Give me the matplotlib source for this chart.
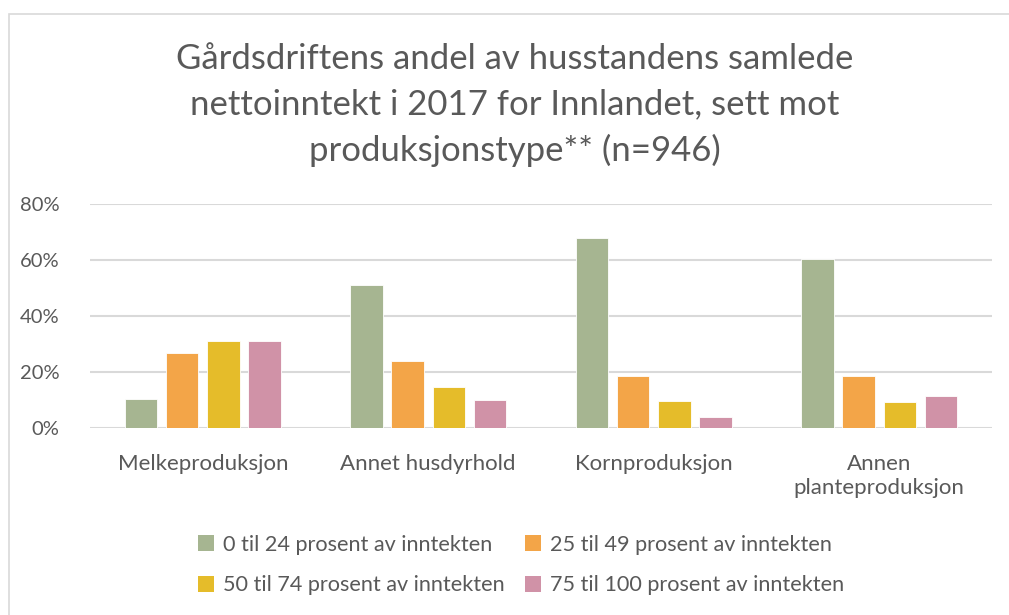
import matplotlib
matplotlib.use("Agg")
import matplotlib.pyplot as plt
import numpy as np
from matplotlib.patches import Rectangle, Patch

categories = ["Melkeproduksjon", "Annet husdyrhold", "Kornproduksjon", "Annen\nplanteproduksjon"]
series_names = ["0 til 24 prosent av inntekten", "25 til 49 prosent av inntekten",
                "50 til 74 prosent av inntekten", "75 til 100 prosent av inntekten"]
s0_24 = [10.5, 51.0, 67.7, 60.5]
s25_49 = [26.9, 23.9, 18.6, 18.6]
s50_74 = [31.1, 14.6, 9.5, 9.2]
s75_100 = [31.1, 10.0, 3.9, 11.4]
yticks = [0, 20, 40, 60, 80]
ytick_labels = ["0%", "20%", "40%", "60%", "80%"]
title = "Gårdsdriftens andel av husstandens samlede\nnettoinntekt i 2017 for Innlandet, sett mot\nproduksjonstype** (n=946)"

colors = ["#A6B591", "#F3A548", "#E5BC2A", "#D092A7"]
text_color = "#595959"
grid_color = "#D9D9D9"
plt.rcParams['font.family'] = ['Lato', 'DejaVu Sans']

fig = plt.figure(figsize=(10.09, 6.15), dpi=100)
ax = fig.add_axes([90/1009, 1-428/615, 902/1009, 224/615])

# chart border
fig.patches.append(Rectangle((9/1009, -0.1), 1.2, 1.1 - 14/615, transform=fig.transFigure,
                             fill=False, edgecolor=grid_color, linewidth=1.2))

x = np.arange(len(categories))
step = 0.182
width = 0.144
all_series = [s0_24, s25_49, s50_74, s75_100]
for i, (vals, c) in enumerate(zip(all_series, colors)):
    ax.bar(x + (i - 1.5) * step, vals, width=width, color=c, edgecolor="white",
           linewidth=0.6, zorder=3)

ax.set_xlim(-0.5, len(categories) - 0.5)
ax.set_ylim(0, 80)
ax.set_yticks(yticks)
ax.set_yticklabels(ytick_labels)
ax.set_xticks(x)
ax.set_xticklabels(categories, linespacing=1.25)
ax.grid(axis="y", color=grid_color, linewidth=1.5, zorder=0)
ax.set_axisbelow(True)
for sp in ax.spines.values():
    sp.set_visible(False)
ax.tick_params(axis="both", length=0, colors=text_color)
ax.tick_params(axis="y", pad=22, labelsize=14.5)
ax.tick_params(axis="x", pad=19, labelsize=16)
for lbl in ax.get_yticklabels() + ax.get_xticklabels():
    lbl.set_color(text_color)

fig.text(515/1009, 1 - 105/615, title, ha="center", va="center", fontsize=25,
         color=text_color, linespacing=1.5)

handles = [Patch(facecolor=c, edgecolor="none") for c in colors]
order = [0, 2, 1, 3]
leg = fig.legend([handles[i] for i in order], [series_names[i] for i in order],
                 ncol=2, loc="center", bbox_to_anchor=(521/1009, 1 - 565/615),
                 frameon=False, fontsize=15.6, handlelength=0.75, handleheight=0.75,
                 handletextpad=0.4, columnspacing=0.95, labelspacing=0.95)
for t in leg.get_texts():
    t.set_color(text_color)

fig.savefig("out.png", dpi=100, facecolor="white")
